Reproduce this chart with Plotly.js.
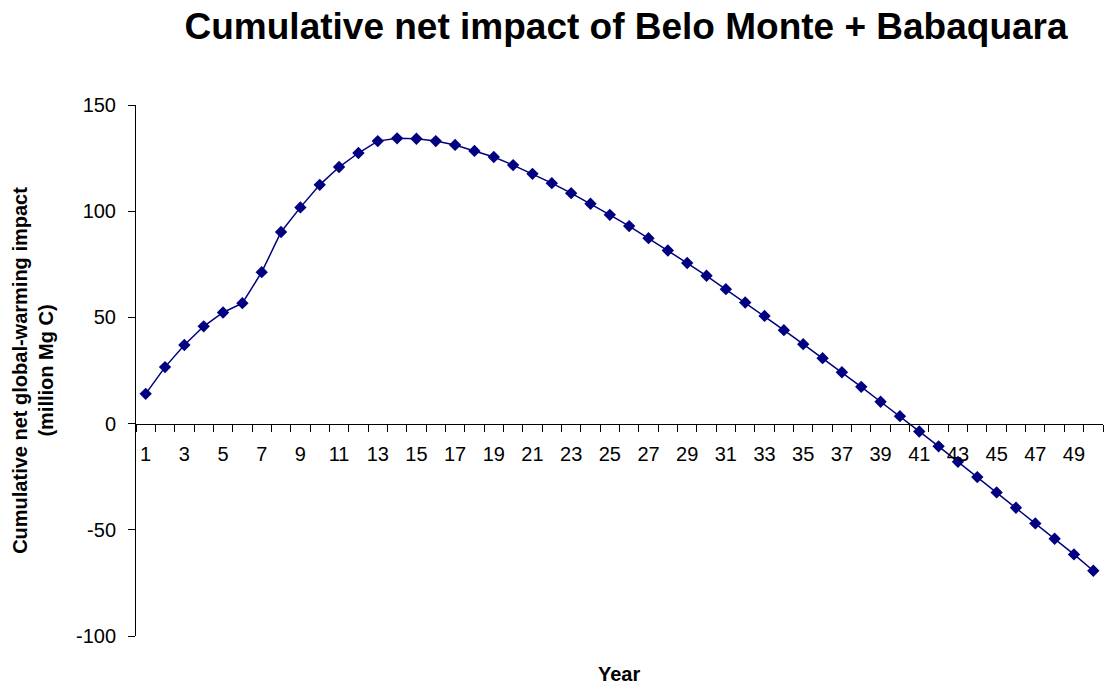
<!DOCTYPE html>
<html>
<head>
<meta charset="utf-8">
<script src="https://cdn.plot.ly/plotly-3.0.1.min.js"></script>
<style>
html, body { margin: 0; padding: 0; background: #ffffff; }
#chart { width: 1111px; height: 691px; }
</style>
</head>
<body>
<div id="chart"></div>
<script>
// Data
const years = [];
for (let i = 1; i <= 50; i++) years.push(i);
const cumulativeImpact = [
  14.0, 26.6, 37.0, 45.8, 52.3, 56.7, 71.3, 90.2, 101.8, 112.4,
  120.8, 127.4, 133.0, 134.3, 134.1, 133.0, 131.2, 128.4, 125.5, 121.7,
  117.6, 113.2, 108.5, 103.5, 98.3, 93.0, 87.3, 81.5, 75.6, 69.6,
  63.3, 57.0, 50.7, 44.0, 37.4, 30.8, 24.2, 17.3, 10.3, 3.5,
  -3.7, -10.7, -18.0, -25.2, -32.4, -39.6, -47.0, -54.2, -61.6, -69.3
];
const xTickVals = [1,3,5,7,9,11,13,15,17,19,21,23,25,27,29,31,33,35,37,39,41,43,45,47,49];
const yTickVals = [-100, -50, 0, 50, 100, 150];

const FONT = "'Liberation Sans', Arial, Helvetica, sans-serif";

const trace = {
  x: years,
  y: cumulativeImpact,
  type: 'scatter',
  mode: 'lines+markers',
  line: { color: '#000080', width: 1.5 },
  marker: { symbol: 'diamond', size: 9.5, color: '#000080' },
  hoverinfo: 'x+y'
};

const layout = {
  width: 1111,
  height: 691,
  margin: { l: 136, r: 8, t: 105, b: 55 },
  paper_bgcolor: '#ffffff',
  plot_bgcolor: '#ffffff',
  showlegend: false,
  font: { family: FONT, size: 20, color: '#000000' },
  title: {
    text: '<b>Cumulative net impact of Belo Monte + Babaquara</b>',
    font: { family: FONT, size: 37, color: '#000000' },
    xref: 'container', yref: 'container',
    x: 0.5635, xanchor: 'center',
    y: 0.962, yanchor: 'middle'
  },
  xaxis: {
    type: 'linear',
    range: [0.5, 50.5],
    anchor: 'free',
    position: 0.4,
    showline: true,
    linecolor: '#000000',
    linewidth: 1,
    showgrid: false,
    zeroline: false,
    tickmode: 'array',
    tickvals: xTickVals,
    ticktext: xTickVals.map(String),
    ticks: 'outside',
    ticklen: 8,
    tickcolor: 'rgba(0,0,0,0)',
    ticklabelstandoff: 4,
    tickfont: { family: FONT, size: 20, color: '#000000' },
    minor: { tickmode: 'linear', tick0: 0.5, dtick: 1, ticks: 'outside', ticklen: 7, tickcolor: '#000000', tickwidth: 1, showgrid: false }
  },
  yaxis: {
    range: [-100, 150],
    tickmode: 'array',
    tickvals: yTickVals,
    ticktext: yTickVals.map(String),
    showline: true,
    linecolor: '#000000',
    linewidth: 1,
    showgrid: false,
    zeroline: false,
    ticks: 'outside',
    ticklen: 7,
    tickcolor: '#000000',
    ticklabelstandoff: 8,
    tickfont: { family: FONT, size: 20, color: '#000000' },
    title: {
      text: '<b>Cumulative net global-warming impact<br>(million Mg C)</b>',
      font: { family: FONT, size: 20, color: '#000000' },
      standoff: 16
    }
  },
  annotations: [
    {
      text: '<b>Year</b>',
      xref: 'paper', yref: 'paper',
      x: 0.499, y: -0.0716,
      xanchor: 'center', yanchor: 'middle',
      showarrow: false,
      font: { family: FONT, size: 20, color: '#000000' }
    }
  ]
};

Plotly.newPlot('chart', [trace], layout, { displayModeBar: false, staticPlot: true });
</script>
</body>
</html>
